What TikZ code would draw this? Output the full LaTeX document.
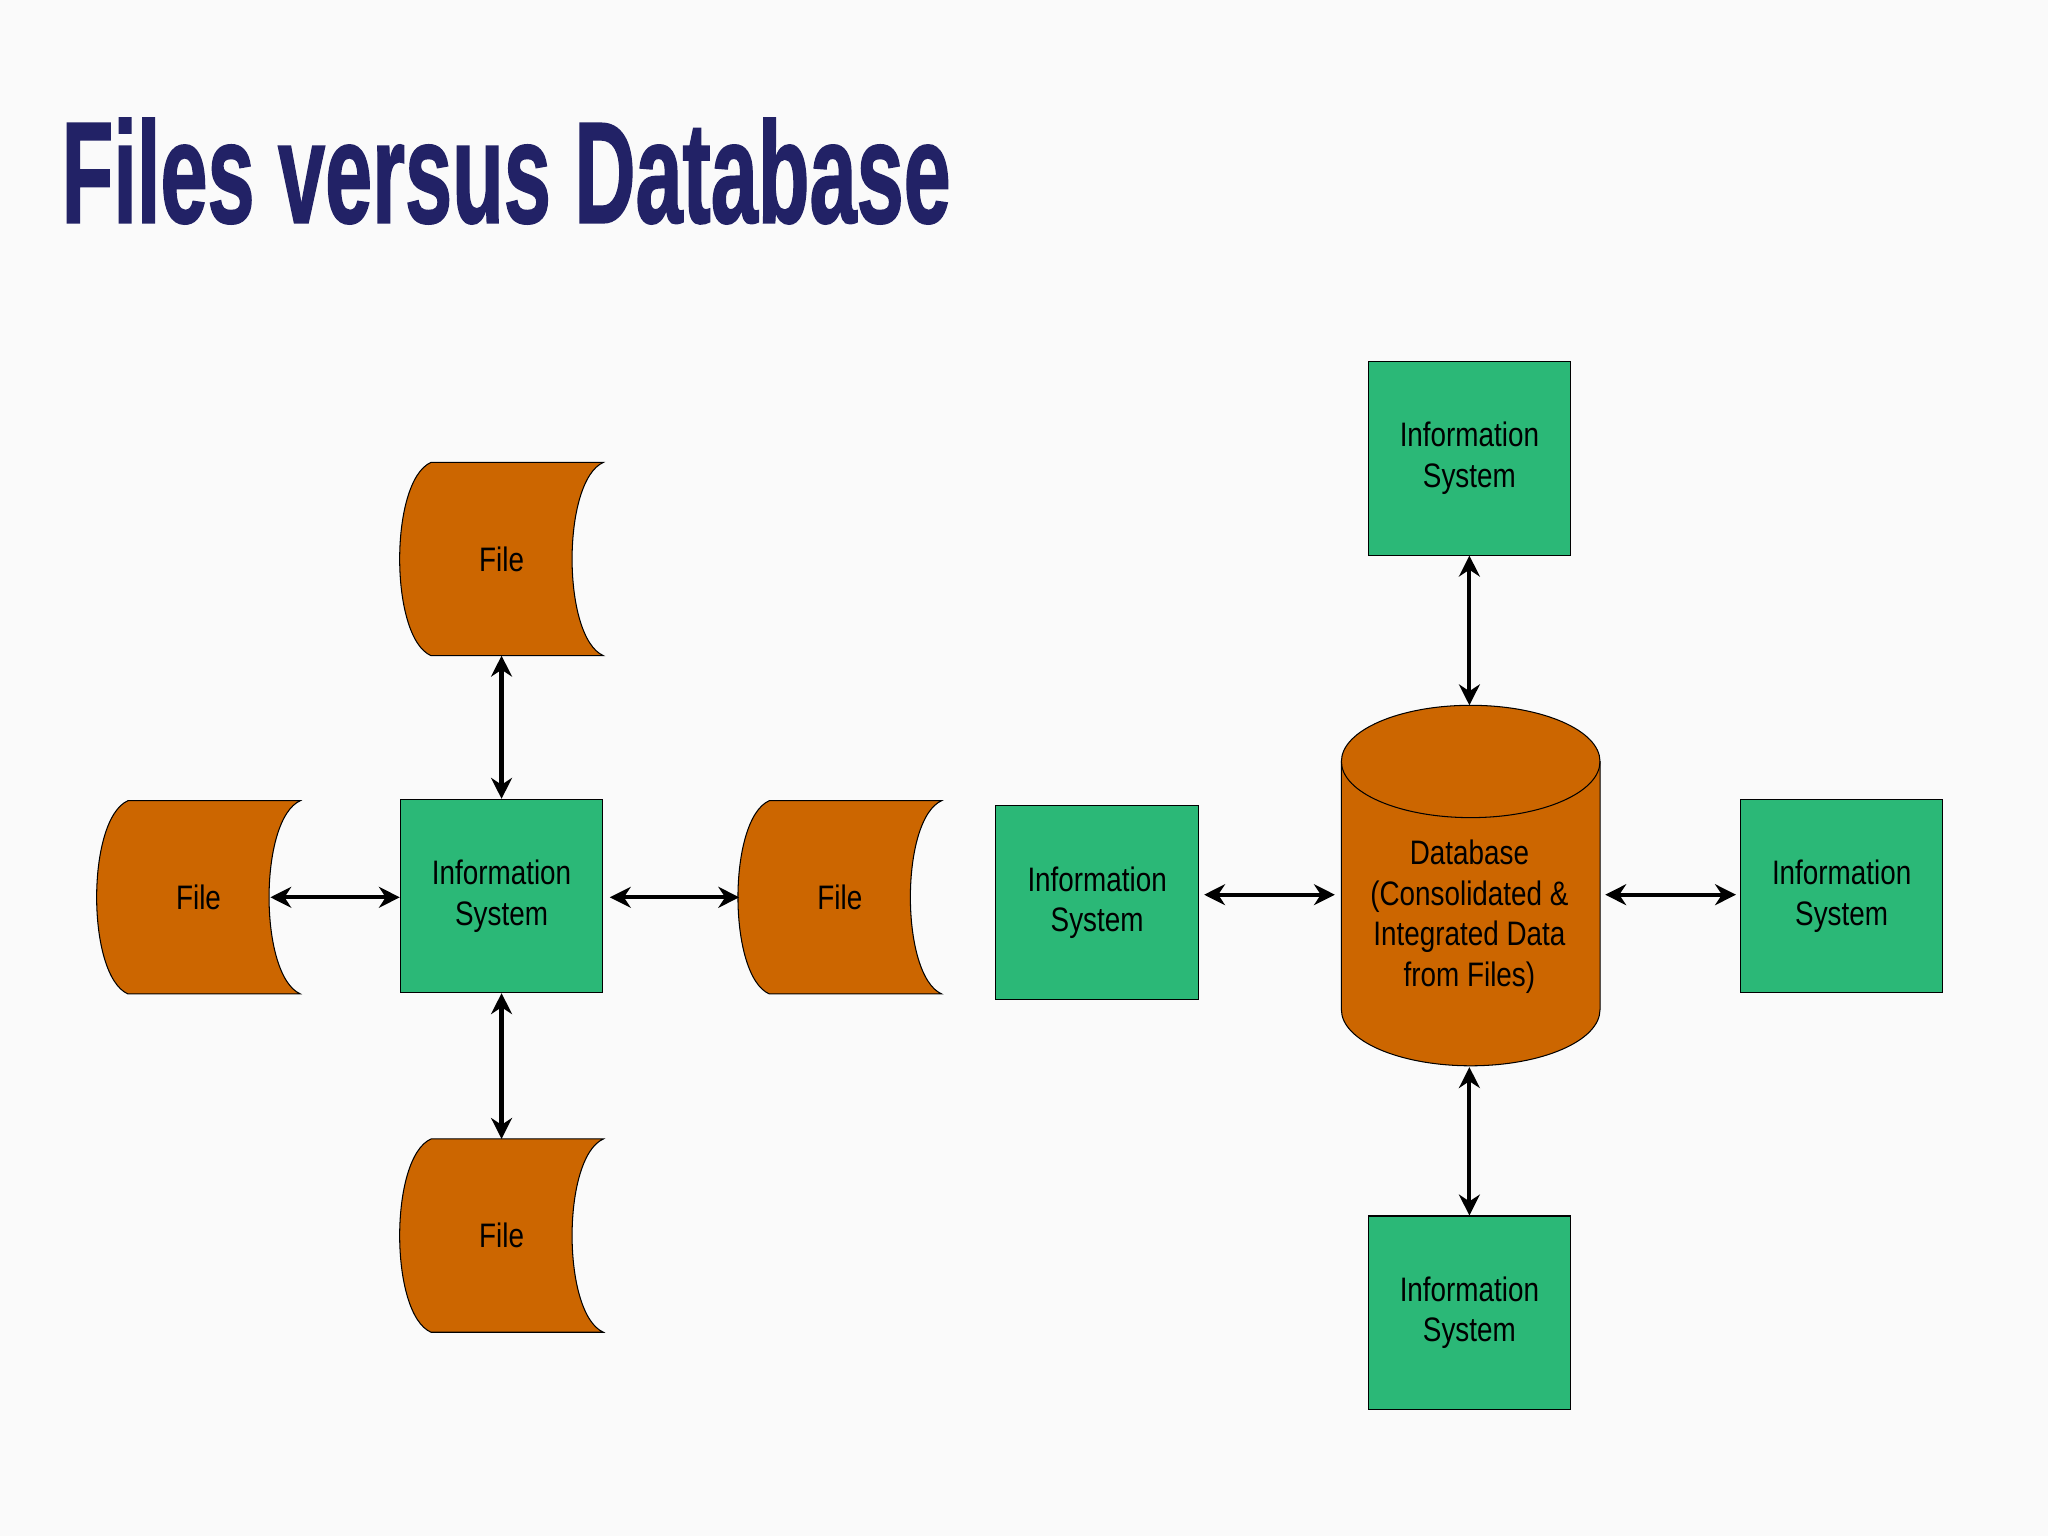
\documentclass[tikz,border=0pt]{standalone}
\usepackage{fontspec}
\setmainfont{Liberation Sans}
\newfontfamily\titlefont{Liberation Sans Bold}[FakeBold=1.5]
\usetikzlibrary{arrows.meta}
\definecolor{org}{HTML}{CC6600}
\definecolor{grn}{HTML}{2BB877}
\definecolor{navy}{HTML}{222266}
\begin{document}
\begin{tikzpicture}[x=0.5pt,y=-0.5pt,
  lbl/.style={font=\fontsize{13}{15.5}\selectfont,align=center,xscale=0.82},
  box/.style={draw,fill=grn,minimum width=77.5pt,minimum height=74pt,inner sep=0pt},
  ar/.style={{Stealth[length=8pt,width=8pt]}-{Stealth[length=8pt,width=8pt]},line width=1.6pt}]
\useasboundingbox (0,0) rectangle (1568,1176);
\fill[white!98!black] (0,0) rectangle (1568,1176);
\node[anchor=west,text=navy,font=\titlefont\fontsize{54}{60}\selectfont,xscale=0.6,yscale=1.02,inner sep=0pt] (title) at (47,131) {Files versus Database};
\newcommand\myfile[3]{%
  \draw[fill=org] ({#2-54},{#3-74}) -- ({#2+78},{#3-74})
     .. controls ({#2+46},{#3-60}) and ({#2+46},{#3+60}) .. ({#2+78},{#3+74})
     -- ({#2-54},{#3+74})
     .. controls ({#2-86},{#3+60}) and ({#2-86},{#3-60}) .. ({#2-54},{#3-74}) -- cycle;
  \node[lbl] (#1) at (#2,#3) {File};
  \coordinate (#1t) at (#2,{#3-74});
  \coordinate (#1b) at (#2,{#3+74});
  \coordinate (#1l) at ({#2-77},#3);
  \coordinate (#1r) at ({#2+55},#3);}
\myfile{ft}{384}{428}
\myfile{fl}{152}{687}
\myfile{fr}{643}{687}
\myfile{fb}{384}{946}
\node[box] (isc) at (384,686) {}; \node[lbl] at (isc) {Information\\System};
\node[box] (isl) at (840,691) {}; \node[lbl] at (isl) {Information\\System};
\node[box] (ist) at (1125,351) {}; \node[lbl] at (ist) {Information\\System};
\node[box] (isr) at (1410,686) {}; \node[lbl] at (isr) {Information\\System};
\node[box] (isb) at (1125,1005) {}; \node[lbl] at (isb) {Information\\System};
\draw[fill=org] (1027,583) -- (1027,773) arc[start angle=180,end angle=0,x radius=99,y radius=43] -- (1225,583) arc[start angle=0,end angle=-180,x radius=99,y radius=43] -- cycle;
\draw (1027,583) arc[start angle=180,end angle=0,x radius=99,y radius=43];
\node[lbl] (db) at (1125,702) {Database\\(Consolidated \&\\Integrated Data\\from Files)};
\coordinate (dbt) at (1125,540);
\coordinate (dbb) at (1125,817);
\coordinate (dbl) at (1022,685);
\coordinate (dbr) at (1229,685);
\draw[ar] (ftb) -- (isc.north);
\draw[ar] (isc.south) -- (fbt);
\draw[ar] (flr) -- (flr-|isc.west);
\draw[ar] ([xshift=2.5pt]frl-|isc.east) -- (frl);
\draw[ar] (ist.south) -- (dbt);
\draw[ar] (dbb) -- (isb.north);
\draw[ar] ([xshift=2pt]isl.east|-dbl) -- (dbl);
\draw[ar] (dbr) -- ([xshift=-1.5pt]isr.west|-dbr);
\end{tikzpicture}
\end{document}
